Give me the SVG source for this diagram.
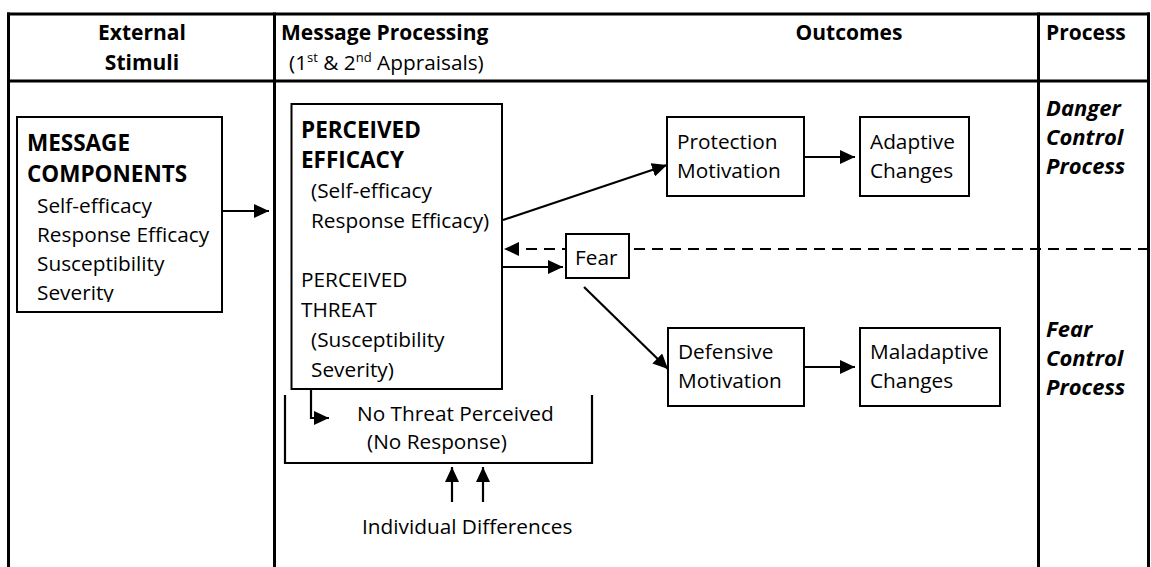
<svg xmlns="http://www.w3.org/2000/svg" width="1151" height="567" viewBox="0 0 1151 567">
  <style>
    .frame { stroke: #000; stroke-width: 3; fill: none; }
    .box { fill: #fff; stroke: #000; stroke-width: 2; }
    .t { font-family: "Open Sans", "Liberation Sans", sans-serif; font-size: 20.8px; fill: #000; }
    .hb { font-family: "Open Sans", "Liberation Sans", sans-serif; font-size: 21px; font-weight: bold; fill: #000; }
    .kb { font-family: "Open Sans", "Liberation Sans", sans-serif; font-size: 22.5px; font-weight: bold; fill: #000; }
    .pi { font-family: "Open Sans", "Liberation Sans", sans-serif; font-size: 22px; font-weight: bold; font-style: italic; fill: #000; }
    .sup { font-size: 13px; }
    .link { stroke: #000; stroke-width: 2.2; fill: none; }
    .dash { stroke-dasharray: 11 7; }
  </style>
  <defs>
    <marker id="arrow" markerUnits="userSpaceOnUse" markerWidth="16" markerHeight="14" refX="15" refY="7" orient="auto">
      <path d="M0,0 L15,7 L0,14 Z" fill="#000"/>
    </marker>
    <clipPath id="msgClip">
      <rect x="17" y="117" width="205" height="185"/>
    </clipPath>
  </defs>

  <rect width="1151" height="567" fill="#fff"/>

  <!-- table frame -->
  <g id="table">
    <line class="frame" x1="7" y1="14" x2="1150" y2="14"/>
    <line class="frame" x1="7" y1="81" x2="1150" y2="81"/>
    <line class="frame" x1="8.5" y1="12.5" x2="8.5" y2="567"/>
    <line class="frame" x1="274.5" y1="12.5" x2="274.5" y2="567"/>
    <line class="frame" x1="1038.5" y1="12.5" x2="1038.5" y2="567"/>
    <line class="frame" x1="1148.5" y1="12.5" x2="1148.5" y2="567"/>
  </g>

  <!-- column headings -->
  <g id="headings">
    <text class="hb" x="142" y="40" text-anchor="middle">External</text>
    <text class="hb" x="142" y="70" text-anchor="middle">Stimuli</text>
    <text class="hb" x="281" y="40">Message Processing</text>
    <text class="t" x="289" y="70">(1<tspan class="sup" dy="-8">st</tspan><tspan dy="8"> &amp; 2</tspan><tspan class="sup" dy="-8">nd</tspan><tspan dy="8"> Appraisals)</tspan></text>
    <text class="hb" x="849" y="40" text-anchor="middle">Outcomes</text>
    <text class="hb" x="1046" y="40">Process</text>
  </g>

  <!-- process labels -->
  <g id="danger-control">
    <text class="pi" x="1046" y="116">Danger</text>
    <text class="pi" x="1046" y="145">Control</text>
    <text class="pi" x="1046" y="174">Process</text>
  </g>
  <g id="fear-control">
    <text class="pi" x="1046" y="337">Fear</text>
    <text class="pi" x="1046" y="366">Control</text>
    <text class="pi" x="1046" y="395">Process</text>
  </g>

  <!-- connectors -->
  <g id="connectors">
    <line class="link dash" x1="1149" y1="249" x2="504" y2="249" marker-end="url(#arrow)"/>
    <line class="link" x1="222" y1="211" x2="269" y2="211" marker-end="url(#arrow)"/>
    <line class="link" x1="503" y1="220" x2="667" y2="165" marker-end="url(#arrow)"/>
    <line class="link" x1="804" y1="157" x2="855" y2="157" marker-end="url(#arrow)"/>
    <line class="link" x1="503" y1="267" x2="563" y2="267" marker-end="url(#arrow)"/>
    <line class="link" x1="584" y1="287" x2="668" y2="369" marker-end="url(#arrow)"/>
    <line class="link" x1="804" y1="367" x2="855" y2="367" marker-end="url(#arrow)"/>
    <polyline class="link" points="311,389 311,418 329,418" marker-end="url(#arrow)"/>
    <line class="link" x1="452" y1="502" x2="452" y2="467" marker-end="url(#arrow)"/>
    <line class="link" x1="483" y1="502" x2="483" y2="467" marker-end="url(#arrow)"/>
  </g>

  <!-- message components -->
  <g id="message-components">
    <rect class="box" x="17" y="117" width="205" height="195"/>
    <g clip-path="url(#msgClip)">
      <text class="kb" x="27" y="151">MESSAGE</text>
      <text class="kb" x="27" y="182">COMPONENTS</text>
      <text class="t" x="37" y="213">Self-efficacy</text>
      <text class="t" x="37" y="242">Response Efficacy</text>
      <text class="t" x="37" y="271">Susceptibility</text>
      <text class="t" x="37" y="300">Severity</text>
    </g>
  </g>

  <!-- perceived efficacy / threat -->
  <g id="appraisal">
    <rect class="box" x="291.5" y="104" width="210.5" height="285"/>
    <text class="kb" x="301" y="138">PERCEIVED</text>
    <text class="kb" x="301" y="168">EFFICACY</text>
    <text class="t" x="311" y="198">(Self-efficacy</text>
    <text class="t" x="311" y="228">Response Efficacy)</text>
    <text class="t" x="301" y="287">PERCEIVED</text>
    <text class="t" x="301" y="317">THREAT</text>
    <text class="t" x="311" y="347">(Susceptibility</text>
    <text class="t" x="311" y="377">Severity)</text>
  </g>

  <g id="fear">
    <rect class="box" x="566" y="234" width="63" height="44"/>
    <text class="t" x="575" y="265">Fear</text>
  </g>

  <g id="protection-motivation">
    <rect class="box" x="667" y="117" width="137" height="79"/>
    <text class="t" x="677" y="149">Protection</text>
    <text class="t" x="677" y="178">Motivation</text>
  </g>

  <g id="adaptive-changes">
    <rect class="box" x="860" y="117" width="109" height="79"/>
    <text class="t" x="870" y="149">Adaptive</text>
    <text class="t" x="870" y="178">Changes</text>
  </g>

  <g id="defensive-motivation">
    <rect class="box" x="668" y="328" width="136" height="78"/>
    <text class="t" x="678" y="359">Defensive</text>
    <text class="t" x="678" y="388">Motivation</text>
  </g>

  <g id="maladaptive-changes">
    <rect class="box" x="860" y="328" width="140" height="78"/>
    <text class="t" x="870" y="359">Maladaptive</text>
    <text class="t" x="870" y="388">Changes</text>
  </g>

  <g id="no-threat">
    <polyline class="link" points="285,395 285,463 592,463 592,395"/>
    <text class="t" x="357" y="421">No Threat Perceived</text>
    <text class="t" x="367" y="449">(No Response)</text>
  </g>

  <g id="individual-differences">
    <text class="t" x="362" y="534">Individual Differences</text>
  </g>
</svg>
